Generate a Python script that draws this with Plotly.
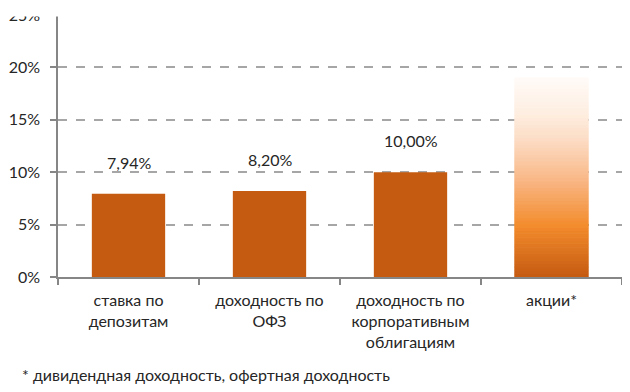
import plotly.graph_objects as go

categories = ["ставка по<br>депозитам", "доходность по<br>ОФЗ", "доходность по<br>корпоративным<br>облигациям", "акции*"]
values = [7.94, 8.20, 10.00]
value_labels = ["7,94%", "8,20%", "10,00%"]
stock_value = 19.0
y_ticks = [0, 5, 10, 15, 20, 25]
y_tick_labels = ["0%", "5%", "10%", "15%", "20%", "25%"]
footnote = "* дивидендная доходность, офертная доходность"

FONT = "Lato"
BAR_COLOR = "#C55A11"
GRAD_STOPS = [(0.0, (197, 90, 17)), (0.26, (243, 140, 45)), (0.5, (249, 185, 138)),
              (0.7, (252, 222, 198)), (0.82, (254, 237, 224)), (1.0, (255, 251, 248))]

# page has an 8px body margin: figure is sized so that it fills the 630x392 window
W, H = 622, 384
ML, MR, MT, MB = 50, 8, 6.5, 115
PH = H - MT - MB
PW = W - ML - MR


def grad_color(t):
    for (t0, c0), (t1, c1) in zip(GRAD_STOPS[:-1], GRAD_STOPS[1:]):
        if t0 <= t <= t1:
            f = (t - t0) / (t1 - t0)
            return "rgb(%d,%d,%d)" % tuple(round(a + (b - a) * f) for a, b in zip(c0, c1))
    return "rgb(%d,%d,%d)" % GRAD_STOPS[-1][1]


fig = go.Figure()
fig.add_trace(go.Bar(x=categories[:3], y=values, marker=dict(color=BAR_COLOR, line=dict(width=0)),
                     width=0.52, showlegend=False, hoverinfo="skip"))

N = 60
seg = stock_value / N
seg_colors = [grad_color((i + 0.5) / N) for i in range(N)]
fig.add_trace(go.Bar(x=[categories[3]] * N, y=[seg] * N, base=[i * seg for i in range(N)],
                     marker=dict(color=seg_colors, line=dict(width=1, color=seg_colors)),
                     width=0.52, showlegend=False, hoverinfo="skip"))

for c, v, t in zip(categories, values, value_labels):
    fig.add_annotation(x=c, y=v, text=t, showarrow=False, yanchor="bottom", yshift=20,
                       font=dict(family=FONT, size=16, color="#262626"))

fig.add_annotation(xref="paper", yref="paper", x=(12 - ML) / PW, xanchor="left",
                   y=-(367 - (H - MB)) / PH, yanchor="middle", text=footnote, showarrow=False,
                   font=dict(family=FONT, size=16, color="#262626"))

# the reference picture is cropped just below the 25% gridline
fig.add_shape(type="rect", xref="paper", yref="paper", x0=-0.2, x1=1.05,
              y0=1 - 1.5 / PH, y1=1 + 20 / PH, fillcolor="white", line=dict(width=0), layer="above")

fig.update_layout(
    width=W, height=H,
    margin=dict(l=ML, r=MR, t=MT, b=MB),
    paper_bgcolor="white", plot_bgcolor="white",
    barmode="overlay",
    font=dict(family=FONT, size=16, color="#262626"),
    xaxis=dict(type="category", categoryorder="array", categoryarray=categories,
               automargin=False,
               showline=True, linecolor="#868686", linewidth=1.5,
               ticks="outside", tickson="boundaries", ticklen=6, tickcolor="#868686",
               tickwidth=1.5, showgrid=False, ticklabelstandoff=8,
               tickfont=dict(family=FONT, size=16, color="#262626")),
    yaxis=dict(range=[0, 25], tickvals=y_ticks, ticktext=y_tick_labels, automargin=False,
               showline=True, linecolor="#868686", linewidth=1.5,
               ticks="outside", ticklen=6, tickcolor="#868686", tickwidth=1.5,
               showgrid=True, gridcolor="#A6A6A6", griddash="dash", gridwidth=1.5,
               zeroline=False, ticklabelstandoff=7, ticklabeloverflow="allow",
               tickfont=dict(family=FONT, size=16, color="#262626")),
)

fig.write_html("out.html")
